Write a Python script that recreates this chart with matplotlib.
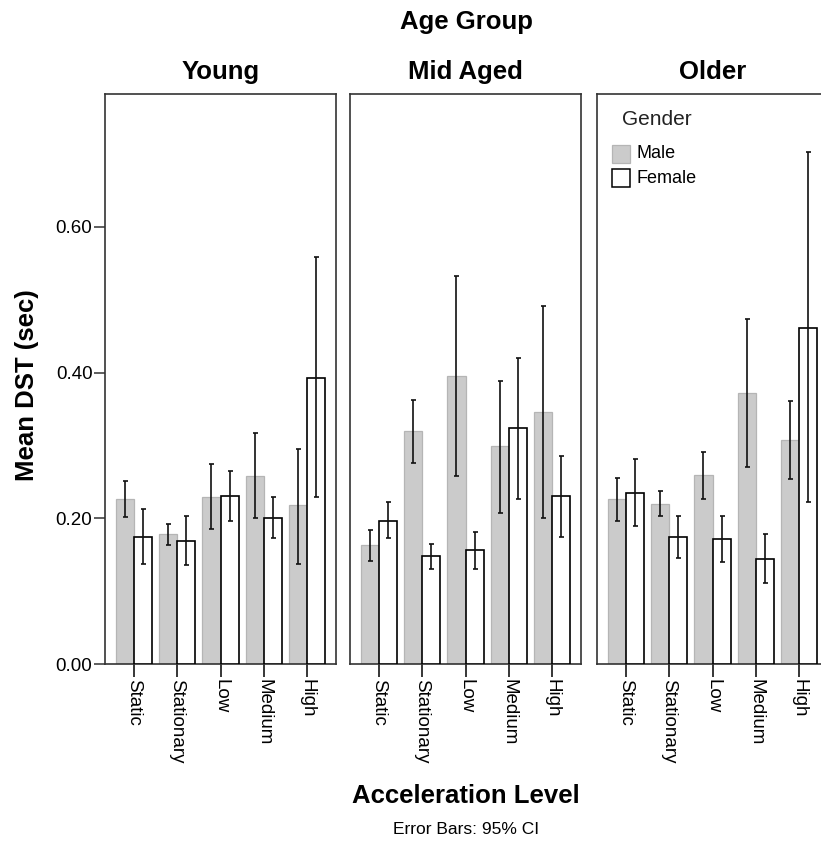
import numpy as np
import matplotlib
matplotlib.use('Agg')
import matplotlib.pyplot as plt
from matplotlib.patches import Rectangle

plt.rcParams['font.family'] = ['Liberation Sans', 'DejaVu Sans']

groups = ['Young', 'Mid Aged', 'Older']
levels = ['Static', 'Stationary', 'Low', 'Medium', 'High']

# one row per age group, one value per acceleration level
male_mean = [[0.226, 0.178, 0.230, 0.258, 0.218],
             [0.163, 0.320, 0.396, 0.299, 0.346],
             [0.227, 0.220, 0.259, 0.372, 0.308]]
male_lo = [[0.202, 0.164, 0.186, 0.200, 0.138],
           [0.142, 0.276, 0.258, 0.207, 0.201],
           [0.197, 0.203, 0.227, 0.270, 0.254]]
male_hi = [[0.251, 0.192, 0.275, 0.317, 0.295],
           [0.184, 0.363, 0.533, 0.389, 0.491],
           [0.256, 0.237, 0.291, 0.473, 0.361]]

female_mean = [[0.175, 0.169, 0.231, 0.200, 0.393],
               [0.197, 0.148, 0.157, 0.324, 0.231],
               [0.235, 0.175, 0.172, 0.145, 0.461]]
female_lo = [[0.137, 0.136, 0.196, 0.173, 0.229],
             [0.173, 0.131, 0.131, 0.227, 0.175],
             [0.190, 0.146, 0.140, 0.111, 0.222]]
female_hi = [[0.213, 0.203, 0.265, 0.229, 0.558],
             [0.222, 0.165, 0.181, 0.420, 0.286],
             [0.281, 0.203, 0.204, 0.178, 0.702]]

yticks = [0.0, 0.2, 0.4, 0.6]

W, H = 821, 843
fig = plt.figure(figsize=(W / 100, H / 100), dpi=100)

male_col = '#cbcbcb'
male_edge = '#b5b5b5'
frame_col = '#333333'

def px_box(left, right, top, bottom):
    return [left / W, 1 - bottom / H, (right - left) / W, (bottom - top) / H]

panel_left = [105, 350, 597]
panel_w = 231
top, bottom = 94, 664.3
bw = 0.415
x = np.arange(len(levels))

axes = []
for i, g in enumerate(groups):
    ax = fig.add_axes(px_box(panel_left[i], panel_left[i] + panel_w, top, bottom))
    axes.append(ax)

    ax.bar(x - bw / 2, male_mean[i], bw, color=male_col, edgecolor=male_edge,
           linewidth=0.9, zorder=2)
    ax.bar(x + bw / 2, female_mean[i], bw, color='white', edgecolor='black',
           linewidth=1.2, zorder=3)

    m = np.array(male_mean[i])
    f = np.array(female_mean[i])
    ax.errorbar(x - bw / 2, m, yerr=[m - np.array(male_lo[i]), np.array(male_hi[i]) - m],
                fmt='none', ecolor='#111111', elinewidth=1.2, capsize=1.8, capthick=1.2, zorder=4)
    ax.errorbar(x + bw / 2, f, yerr=[f - np.array(female_lo[i]), np.array(female_hi[i]) - f],
                fmt='none', ecolor='#111111', elinewidth=1.2, capsize=1.8, capthick=1.2, zorder=4)

    ax.set_xlim(-0.66, 4.66)
    ax.set_ylim(0, 0.782)
    ax.set_xticks(x)
    ax.set_xticklabels(levels, rotation=270, fontsize=13.5, va='top', ha='center')
    ax.tick_params(axis='x', length=9.5, width=1.1, pad=1, color='black')
    ax.set_yticks(yticks)
    if i == 0:
        ax.set_yticklabels(['%.2f' % v for v in yticks], fontsize=13.5)
        ax.tick_params(axis='y', length=8, width=1.1, pad=1, color=frame_col)
    else:
        ax.tick_params(axis='y', left=False, labelleft=False)
    for s in ax.spines.values():
        s.set_color(frame_col)
        s.set_linewidth(1.2)

    fig.text((panel_left[i] + panel_w / 2) / W, 1 - 72 / H, g, ha='center', va='center',
             fontsize=18.5, fontweight='bold')

fig.text(466 / W, 1 - 22 / H, 'Age Group', ha='center', va='center',
         fontsize=18.5, fontweight='bold')
fig.text(466 / W, 1 - 796 / H, 'Acceleration Level', ha='center', va='center',
         fontsize=18.5, fontweight='bold')
fig.text(466 / W, 1 - 830 / H, 'Error Bars: 95% CI', ha='center', va='center', fontsize=12.5)
fig.text(27 / W, 1 - 385 / H, 'Mean DST (sec)', ha='center', va='center', rotation=90,
         fontsize=18.5, fontweight='bold')

# legend inside the Older panel
lg = axes[2]
lg.text(0.108, 0.9545, 'Gender', transform=lg.transAxes, ha='left', va='center',
        fontsize=15, color='#222222')
lg.add_patch(Rectangle((0.065, 0.879), 0.078, 0.0316, transform=lg.transAxes,
                       facecolor=male_col, edgecolor=male_edge, linewidth=0.9, zorder=5))
lg.add_patch(Rectangle((0.065, 0.837), 0.078, 0.0316, transform=lg.transAxes,
                       facecolor='white', edgecolor='black', linewidth=1.1, zorder=5))
lg.text(0.169, 0.895, 'Male', transform=lg.transAxes, ha='left', va='center', fontsize=13)
lg.text(0.169, 0.852, 'Female', transform=lg.transAxes, ha='left', va='center', fontsize=13)

fig.savefig('out.png', dpi=100)
